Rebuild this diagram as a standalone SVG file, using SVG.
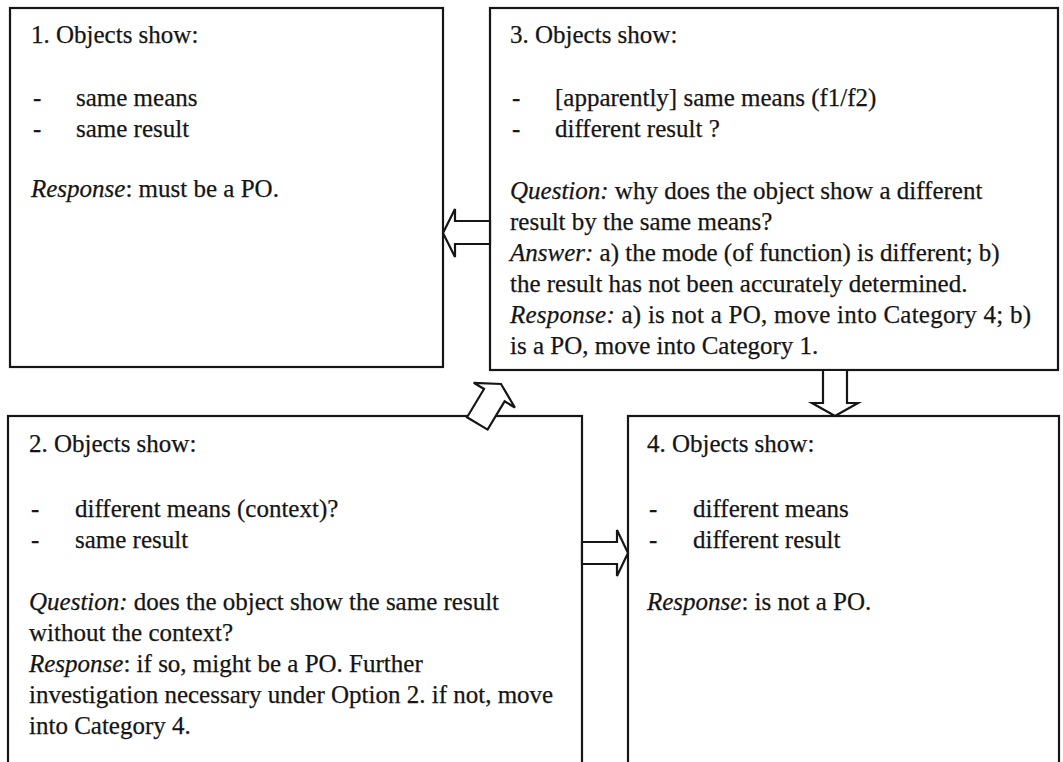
<svg xmlns="http://www.w3.org/2000/svg" width="1063" height="762" viewBox="0 0 1063 762">
  <style>
    .box { fill: #ffffff; stroke: #161616; stroke-width: 2.2; }
    .arrow { fill: #ffffff; stroke: #161616; stroke-width: 2.2; stroke-linejoin: miter; }
    text { font-family: "Liberation Serif", "Times New Roman", serif; font-size: 25px; fill: #151515; stroke: #151515; stroke-width: 0.25; }
    .i { font-style: italic; }
  </style>
  <rect width="1063" height="762" fill="#ffffff"/>

  <!-- Category 1 -->
  <g id="node-1">
    <rect class="box" x="10" y="8" width="433" height="359"/>
    <text x="31" y="43">1. Objects show:</text>
    <text x="33" y="106">-</text>
    <text x="76" y="106">same means</text>
    <text x="33" y="137">-</text>
    <text x="76" y="137">same result</text>
    <text x="31" y="197"><tspan class="i">Response</tspan>: must be a PO.</text>
  </g>

  <!-- Category 3 -->
  <g id="node-3">
    <rect class="box" x="490" y="8" width="568" height="362"/>
    <text x="510" y="43">3. Objects show:</text>
    <text x="512" y="106">-</text>
    <text x="555" y="106">[apparently] same means (f1/f2)</text>
    <text x="512" y="137">-</text>
    <text x="555" y="137">different result ?</text>
    <text x="510" y="199"><tspan class="i">Question:</tspan> why does the object show a different</text>
    <text x="510" y="230">result by the same means?</text>
    <text x="510" y="261"><tspan class="i">Answer:</tspan> a) the mode (of function) is different; b)</text>
    <text x="510" y="292">the result has not been accurately determined.</text>
    <text x="510" y="323" textLength="521" lengthAdjust="spacing"><tspan class="i">Response:</tspan> a) is not a PO, move into Category 4; b)</text>
    <text x="510" y="354">is a PO, move into Category 1.</text>
  </g>

  <!-- Category 2 -->
  <g id="node-2">
    <rect class="box" x="8" y="416" width="574" height="360"/>
    <text x="29" y="452">2. Objects show:</text>
    <text x="31" y="517">-</text>
    <text x="75" y="517">different means (context)?</text>
    <text x="31" y="548">-</text>
    <text x="75" y="548">same result</text>
    <text x="29" y="610"><tspan class="i">Question:</tspan> does the object show the same result</text>
    <text x="29" y="641">without the context?</text>
    <text x="29" y="672"><tspan class="i">Response</tspan>: if so, might be a PO. Further</text>
    <text x="29" y="703">investigation necessary under Option 2. if not, move</text>
    <text x="29" y="734">into Category 4.</text>
  </g>

  <!-- Category 4 -->
  <g id="node-4">
    <rect class="box" x="628" y="416" width="431" height="360"/>
    <text x="647" y="452">4. Objects show:</text>
    <text x="649" y="517">-</text>
    <text x="693" y="517">different means</text>
    <text x="649" y="548">-</text>
    <text x="693" y="548">different result</text>
    <text x="647" y="610"><tspan class="i">Response</tspan>: is not a PO.</text>
  </g>

  <!-- Block arrows between categories -->
  <g id="connectors">
    <!-- 3 to 1 -->
    <polygon class="arrow" points="490,221 455,221 455,209 443,233 455,257 455,244 490,244"/>
    <!-- 3 to 4 -->
    <polygon class="arrow" points="823,370 823,403 812,403 835,416 858,403 847,403 847,370"/>
    <!-- 2 to 4 -->
    <polygon class="arrow" points="582,542 617,542 617,530 628,553 617,576 617,564 582,564"/>
    <!-- 2 to 3 -->
    <polygon class="arrow" transform="translate(501,384) rotate(31)" points="0,0 24,13 12,13 12,46 -12,46 -12,13 -24,13"/>
  </g>
</svg>
